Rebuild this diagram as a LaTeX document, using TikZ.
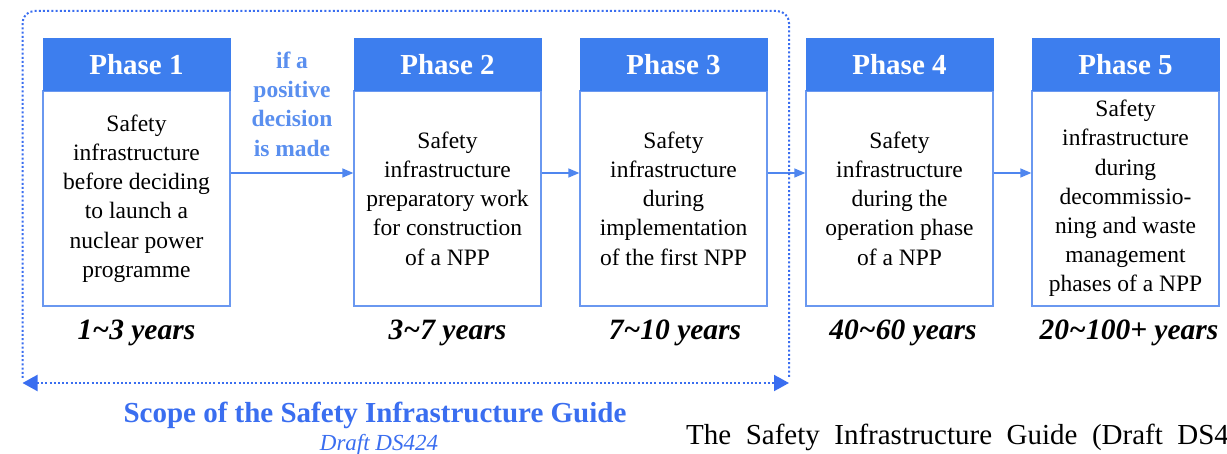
\documentclass[tikz,border=0pt]{standalone}
\usepackage{fontspec}
\setmainfont{Liberation Serif}
\usetikzlibrary{arrows.meta,calc}
\definecolor{hdrblue}{HTML}{3D7EEE}
\definecolor{edgeblue}{HTML}{6A98F0}
\definecolor{lineblue}{HTML}{4F86EF}
\definecolor{noteblue}{HTML}{5A8FEF}
\definecolor{scopeblue}{HTML}{3A6EF0}
\tikzset{
  hdr/.style={fill=hdrblue, draw=hdrblue, line width=1pt, minimum width=187pt, minimum height=52pt,
    text=white, inner sep=0pt, font=\bfseries\fontsize{29}{30}\selectfont},
  bodybox/.style={draw=edgeblue, line width=1.3pt, minimum width=187pt, minimum height=215pt,
    inner sep=0pt, align=center, font=\fontsize{23.5}{29.2}\selectfont},
  conn/.style={draw=lineblue, line width=1.4pt, -{Triangle[length=11pt,width=9pt]}},
  scopeline/.style={draw=scopeblue, line width=2pt, dash pattern=on 2pt off 2.2pt},
  scopearrows/.style={{Triangle[length=15pt,width=16pt]}-{Triangle[length=15pt,width=16pt]}},
  years/.style={anchor=base, font=\bfseries\itshape\fontsize{29.5}{30}\selectfont},
}
\begin{document}
\begin{tikzpicture}[x=1pt,y=-1pt]
\useasboundingbox (0,0) rectangle (1227,454);
\fill[white] (0,0) rectangle (1227,454);

% bodies
\node[bodybox] (b1) at (136.5,198.5) {Safety\\infrastructure\\before deciding\\to launch a\\nuclear power\\programme};
\node[bodybox] (b2) at (447.5,198.5) {Safety\\infrastructure\\preparatory work\\for construction\\of a NPP};
\node[bodybox] (b3) at (673.5,198.5) {Safety\\infrastructure\\during\\implementation\\of the first NPP};
\node[bodybox] (b4) at (899.5,198.5) {Safety\\infrastructure\\during the\\operation phase\\of a NPP};
\node[bodybox] (b5) at (1125.5,198.5) {Safety\\infrastructure\\during\\decommissio-\\ning and waste\\management\\phases of a NPP};

% headers
\node[hdr] (h1) at (136.5,65) {Phase 1};
\node[hdr] (h2) at (447.5,65) {Phase 2};
\node[hdr] (h3) at (673.5,65) {Phase 3};
\node[hdr] (h4) at (899.5,65) {Phase 4};
\node[hdr] (h5) at (1125.5,65) {Phase 5};

% connectors
\coordinate (ay) at (0,173);
\draw[conn] (b1.east |- ay) -- (b2.west |- ay);
\draw[conn] (b2.east |- ay) -- (b3.west |- ay);
\draw[conn] (b3.east |- ay) -- (b4.west |- ay);
\draw[conn] (b4.east |- ay) -- (b5.west |- ay);

\node[text=noteblue, align=center, font=\bfseries\fontsize{23.5}{29.3}\selectfont] (cond) at (292,104) {if a\\positive\\decision\\is made};

% years
\node[years] (y1) at (136.5,340) {1\char`\~3 years};
\node[years] (y2) at (447.5,340) {3\char`\~7 years};
\node[years] (y3) at (675,340) {7\char`\~10 years};
\node[years] (y4) at (903,340) {40\char`\~60 years};
\node[years] (y5) at (1129,340) {20\char`\~100+ years};

% scope frame
\coordinate (sl) at (22.5,383);
\coordinate (sr) at (789,383);
\draw[scopeline, rounded corners=12pt] (22.5,378) -- (22.5,11) -- (789,11) -- (789,378);
\draw[scopeline, scopearrows] (sl) -- (sr);

\node[anchor=base, text=scopeblue, font=\bfseries\fontsize{29}{30}\selectfont] (scope) at (375,422) {Scope of the Safety Infrastructure Guide};
\node[anchor=base, text=scopeblue, font=\itshape\fontsize{23}{24}\selectfont] (draft) at (379,450) {Draft DS424};

\node[anchor=base west, inner sep=0pt, font=\fontsize{29}{30}\selectfont] (cap) at (686,444) {\spaceskip=14.5pt The Safety Infrastructure Guide (Draft DS4};
\end{tikzpicture}
\end{document}
